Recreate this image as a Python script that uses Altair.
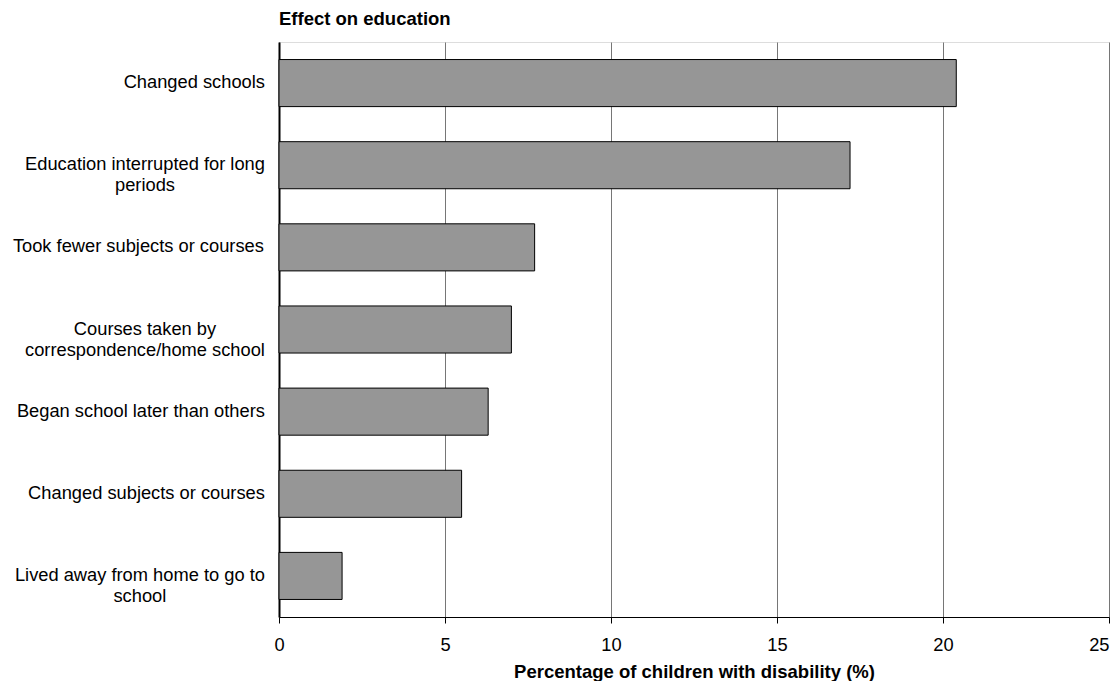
import altair as alt
import pandas as pd

categories = [
    "Changed schools",
    "Education interrupted for long periods",
    "Took fewer subjects or courses",
    "Courses taken by correspondence/home school",
    "Began school later than others",
    "Changed subjects or courses",
    "Lived away from home to go to school",
]
label_lines = [
    ["Changed schools"],
    ["Education interrupted for long", "periods"],
    ["Took fewer subjects or courses"],
    ["Courses taken by", "correspondence/home school"],
    ["Began school later than others"],
    ["Changed subjects or courses"],
    ["Lived away from home to go to", "school"],
]
values = [20.4, 17.2, 7.7, 7.0, 6.3, 5.5, 1.9]
x_ticks = [0, 5, 10, 15, 20, 25]

FONT = "Liberation Sans"
FS = 18.3
PLOT_W = 830
PLOT_H = 575
X_MAX = 25

# Arial / Helvetica advance widths (per 1000 em) for measuring label text
W = dict(a=556, b=556, c=500, d=556, e=556, f=278, g=556, h=556, i=222, j=222,
         k=500, l=222, m=833, n=556, o=556, p=556, q=556, r=333, s=500, t=278,
         u=556, v=500, w=722, x=500, y=500, z=500)
W.update({" ": 278, "/": 278, "C": 722, "E": 667, "T": 611, "B": 667, "L": 556})


def text_width(s):
    return sum(W.get(ch, 556) for ch in s) / 1000.0 * FS


label_gap = 14  # px between label block and axis
centers = []
for lines in label_lines:
    mw = max(text_width(s) for s in lines)
    cx_px = -label_gap - mw / 2.0
    centers.append(cx_px * X_MAX / PLOT_W)

df = pd.DataFrame({
    "category": categories,
    "value": values,
    "label": ["\n".join(l) for l in label_lines],
    "cx": centers,
})

x_scale = alt.Scale(domain=[0, X_MAX], nice=False, zero=True)
x_axis = alt.Axis(
    values=x_ticks, grid=True, gridColor="#767676", gridWidth=1,
    domainColor="#000000", domainWidth=1, tickColor="#000000", tickSize=6,
    labelFont=FONT, labelFontSize=FS, labelColor="#000000", labelPadding=13,
    labelAlign={"condition": {"test": f"datum.value == {X_MAX}", "value": "right"},
                "value": "center"},
    title="Percentage of children with disability (%)", titleFont=FONT,
    titleFontSize=18.5, titleFontWeight="bold", titleColor="#000000",
    titlePadding=9, labelFlush=False,
)
y_scale = alt.Scale(paddingInner=0.427, paddingOuter=0.2135)
y_axis = alt.Axis(labels=False, ticks=False, title=None, grid=False,
                  domainColor="#000000", domainWidth=2)

bars = alt.Chart(df).mark_bar(
    color="#969696", stroke="#000000", strokeWidth=1
).encode(
    x=alt.X("value:Q", scale=x_scale, axis=x_axis),
    y=alt.Y("category:N", sort=categories, scale=y_scale, axis=y_axis),
)

labels = alt.Chart(df).mark_text(
    align="center", baseline="middle", lineBreak="\n", font=FONT,
    fontSize=FS, lineHeight=21, color="#000000", clip=False,
).encode(
    x=alt.X("cx:Q", scale=x_scale, axis=x_axis),
    y=alt.Y("category:N", sort=categories, scale=y_scale, axis=y_axis),
    text="label:N",
)

chart = alt.layer(bars, labels).properties(
    width=PLOT_W, height=PLOT_H,
    autosize="none",
    padding={"left": 271, "top": 34, "right": 2, "bottom": 64},
    title=alt.TitleParams(
        "Effect on education", anchor="start", frame="group", font=FONT,
        fontSize=18.5, fontWeight="bold", color="#000000", offset=14,
    ),
).configure_view(stroke="#767676", strokeWidth=1).configure(background="white")

chart.save("out.html", embed_options={"renderer": "svg", "actions": False})
